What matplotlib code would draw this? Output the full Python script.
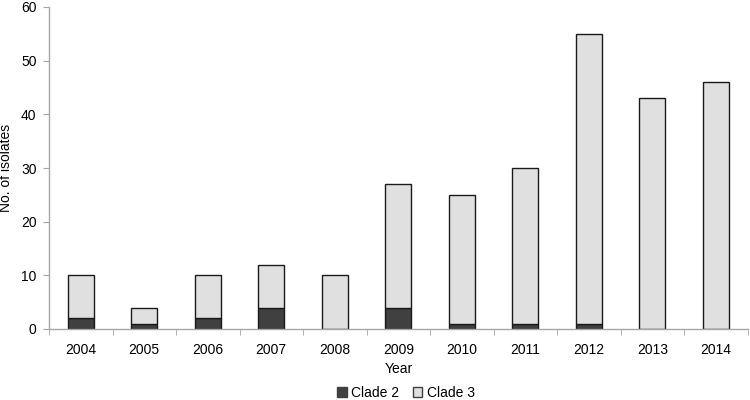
import matplotlib.pyplot as plt
import numpy as np
from matplotlib.patches import Patch

plt.rcParams['font.family'] = ['Liberation Sans', 'DejaVu Sans']

years = ['2004', '2005', '2006', '2007', '2008', '2009', '2010', '2011', '2012', '2013', '2014']
clade2 = [2, 1, 2, 4, 0, 4, 1, 1, 1, 0, 0]
clade3 = [8, 3, 8, 8, 10, 23, 24, 29, 54, 43, 46]

dark = '#404040'
light = '#e0e0e0'
axis_col = '#a6a6a6'

fig = plt.figure(figsize=(7.5, 4), dpi=100)
ax = fig.add_axes([0.0653, 0.1775, 0.9317, 0.805])

x = np.arange(len(years))
ax.bar(x, clade2, width=0.41, color=dark, edgecolor='#1a1a1a', linewidth=1.0)
ax.bar(x, clade3, width=0.41, bottom=clade2, color=light, edgecolor='#1a1a1a', linewidth=1.0)

ax.set_xlim(-0.5, len(years) - 0.5)
ax.set_ylim(0, 60)
ax.set_yticks(range(0, 61, 10))
ax.set_xticks(x)
ax.set_xticklabels(years)
ax.set_xticks(np.arange(-0.5, len(years)), minor=True)
ax.tick_params(axis='x', which='major', length=0, pad=10, labelsize=10)
ax.tick_params(axis='x', which='minor', length=4, color=axis_col, direction='out')
ax.tick_params(axis='y', length=4, color=axis_col, direction='out', labelsize=10, pad=5)

for s in ['top', 'right']:
    ax.spines[s].set_visible(False)
for s in ['left', 'bottom']:
    ax.spines[s].set_color(axis_col)
    ax.spines[s].set_linewidth(1.0)

ax.set_xlabel('Year', fontsize=10)
ax.set_ylabel('No. of isolates', fontsize=10)
ax.xaxis.set_label_coords(0.5, -0.102)
ax.yaxis.set_label_coords(-0.052, 0.5)

handles = [Patch(facecolor=dark, edgecolor=dark, label='Clade 2'),
           Patch(facecolor=light, edgecolor='#404040', label='Clade 3')]
fig.legend(handles=handles, loc='center', bbox_to_anchor=(0.541, 0.017), ncol=2,
           frameon=False, fontsize=10, handlelength=0.7, handleheight=0.7,
           handletextpad=0.3, columnspacing=1.0, borderpad=0)

fig.savefig('out.png', dpi=100)
